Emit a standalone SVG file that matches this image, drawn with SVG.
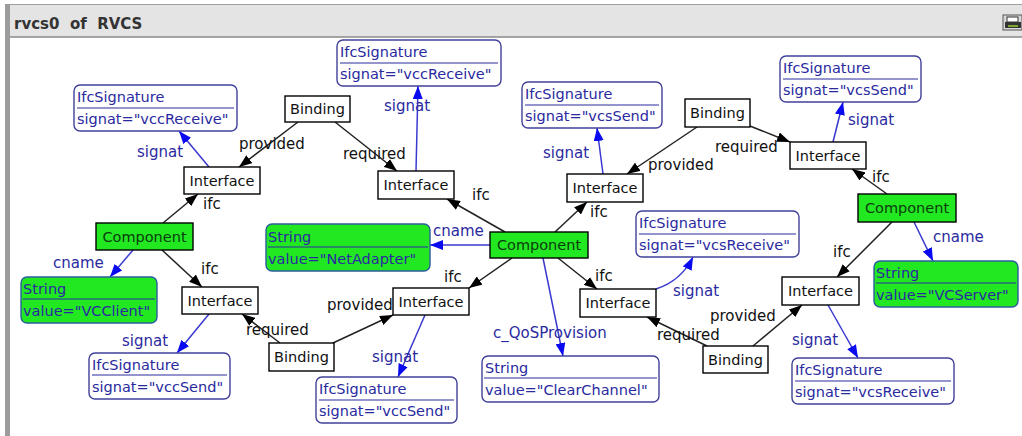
<svg xmlns="http://www.w3.org/2000/svg" width="1022" height="436" viewBox="0 0 1022 436">
<style>
.nt{font-family:"DejaVu Sans","Liberation Sans",sans-serif;font-size:14.5px;fill:#111}
.ct{font-family:"DejaVu Sans","Liberation Sans",sans-serif;font-size:14.5px;fill:#0b3d0b}
.bt{font-family:"DejaVu Sans","Liberation Sans",sans-serif;font-size:14.5px;fill:#2a2aa0}
.box{fill:#fff;stroke:#000;stroke-width:1.4}
.comp{fill:#22e822;stroke:#000;stroke-width:1.4}
.sig{fill:#fff;stroke:#40409a;stroke-width:1.4}
.str{fill:#22e822;stroke:#2c5c9c;stroke-width:1.4}
.sep{stroke:#2a2aa0;stroke-width:1.2}
.e{stroke:#222;stroke-width:1.5;fill:none;marker-end:url(#ak)}
.b{stroke:#3a3ad0;stroke-width:1.5;fill:none;marker-end:url(#ab)}
.lk{font-family:"DejaVu Sans","Liberation Sans",sans-serif;font-size:15px;fill:#111}
.lb{font-family:"DejaVu Sans","Liberation Sans",sans-serif;font-size:15px;fill:#2a2aa0}
</style>
<defs>
<marker id="ak" viewBox="0 0 13 10" refX="13" refY="5" markerWidth="13" markerHeight="10" markerUnits="userSpaceOnUse" orient="auto"><path d="M0,0 L13,5 L0,10 z" fill="#000"/></marker>
<marker id="ab" viewBox="0 0 13 10" refX="13" refY="5" markerWidth="13" markerHeight="10" markerUnits="userSpaceOnUse" orient="auto"><path d="M0,0 L13,5 L0,10 z" fill="#0a0af0"/></marker>
</defs>
<rect x="0" y="0" width="1022" height="436" fill="#fff"/>
<g id="frame">
<rect x="5" y="4" width="1017" height="33" fill="#e4e4e4"/>
<line x1="5" y1="4.5" x2="1022" y2="4.5" stroke="#a0a0a0" stroke-width="1"/>
<line x1="5" y1="37" x2="1022" y2="37" stroke="#8a8a8a" stroke-width="1.5"/>
<rect x="5" y="4" width="5" height="432" fill="#9c9c9c"/>
<text x="14" y="29" xml:space="preserve" style="font-family:'DejaVu Sans','Liberation Sans',sans-serif;font-size:15px;font-weight:bold;fill:#333">rvcs0  of  RVCS</text>
<g id="printer">
<rect x="1003" y="15" width="19" height="15" fill="#d8d8d8" stroke="#555" stroke-width="1"/>
<rect x="1007" y="17" width="11" height="5" fill="#fff" stroke="#333" stroke-width="1"/>
<rect x="1005" y="22" width="16" height="6" fill="#333"/>
<line x1="1008" y1="26" x2="1018" y2="26" stroke="#9c3" stroke-width="1.5"/>
</g>
</g>
<g id="connectors">
<line class="e" x1="163" y1="223" x2="198" y2="194"/>
<line class="e" x1="162" y1="250" x2="202" y2="287"/>
<line class="e" x1="298" y1="122" x2="239" y2="167"/>
<line class="e" x1="335" y1="122" x2="397" y2="171"/>
<line class="e" x1="280" y1="343" x2="242" y2="314"/>
<line class="e" x1="333" y1="343" x2="393" y2="315"/>
<line class="e" x1="505" y1="232" x2="447" y2="199"/>
<line class="e" x1="512" y1="258" x2="469" y2="288"/>
<line class="e" x1="555" y1="232" x2="587" y2="202"/>
<line class="e" x1="558" y1="258" x2="597" y2="289"/>
<line class="e" x1="697" y1="127" x2="627" y2="174"/>
<line class="e" x1="750" y1="126" x2="790" y2="142"/>
<line class="e" x1="887" y1="194" x2="852" y2="169"/>
<line class="e" x1="892" y1="222" x2="837" y2="277"/>
<line class="e" x1="707" y1="346" x2="647" y2="317"/>
<line class="e" x1="753" y1="346" x2="802" y2="305"/>
<line class="b" x1="209" y1="167" x2="179" y2="131"/>
<line class="b" x1="133" y1="250" x2="110" y2="277"/>
<line class="b" x1="209" y1="314" x2="177" y2="353"/>
<line class="b" x1="416" y1="171" x2="418" y2="86"/>
<line class="b" x1="490" y1="245" x2="430" y2="245"/>
<line class="b" x1="425" y1="315" x2="398" y2="377"/>
<line class="b" x1="543" y1="258" x2="563" y2="356"/>
<line class="b" x1="603" y1="174" x2="597" y2="128"/>
<path class="b" d="M656,289 Q681,281 693,257"/>
<line class="b" x1="833" y1="142" x2="843" y2="102"/>
<line class="b" x1="914" y1="222" x2="933" y2="261"/>
<line class="b" x1="828" y1="305" x2="858" y2="358"/>
<text class="lk" x="203" y="209">ifc</text>
<text class="lk" x="201" y="274">ifc</text>
<text class="lk" x="239" y="149">provided</text>
<text class="lk" x="343" y="159">required</text>
<text class="lk" x="246" y="335">required</text>
<text class="lk" x="327" y="310">provided</text>
<text class="lk" x="472" y="200">ifc</text>
<text class="lk" x="444" y="282">ifc</text>
<text class="lk" x="590" y="217">ifc</text>
<text class="lk" x="595" y="281">ifc</text>
<text class="lk" x="648" y="170">provided</text>
<text class="lk" x="715" y="152">required</text>
<text class="lk" x="872" y="182">ifc</text>
<text class="lk" x="833" y="257">ifc</text>
<text class="lk" x="657" y="340">required</text>
<text class="lk" x="710" y="321">provided</text>
<text class="lb" x="137" y="157">signat</text>
<text class="lb" x="53" y="268">cname</text>
<text class="lb" x="122" y="346">signat</text>
<text class="lb" x="384" y="111">signat</text>
<text class="lb" x="433" y="236">cname</text>
<text class="lb" x="372" y="362">signat</text>
<text class="lb" x="493" y="338">c_QoSProvision</text>
<text class="lb" x="543" y="158">signat</text>
<text class="lb" x="673" y="296">signat</text>
<text class="lb" x="848" y="125">signat</text>
<text class="lb" x="933" y="242">cname</text>
<text class="lb" x="792" y="345">signat</text>
</g>
<g id="I1"><rect class="box" x="184" y="167" width="76" height="27"/><text class="nt" x="222" y="186" text-anchor="middle">Interface</text></g>
<g id="I2"><rect class="box" x="182" y="287" width="76" height="27"/><text class="nt" x="220" y="306" text-anchor="middle">Interface</text></g>
<g id="I3"><rect class="box" x="378" y="171" width="76" height="28"/><text class="nt" x="416" y="190" text-anchor="middle">Interface</text></g>
<g id="I4"><rect class="box" x="393" y="288" width="76" height="27"/><text class="nt" x="431" y="307" text-anchor="middle">Interface</text></g>
<g id="I5"><rect class="box" x="567" y="174" width="76" height="28"/><text class="nt" x="605" y="193" text-anchor="middle">Interface</text></g>
<g id="I6"><rect class="box" x="580" y="289" width="76" height="28"/><text class="nt" x="618" y="308" text-anchor="middle">Interface</text></g>
<g id="I7"><rect class="box" x="790" y="142" width="76" height="27"/><text class="nt" x="828" y="161" text-anchor="middle">Interface</text></g>
<g id="I8"><rect class="box" x="782" y="277" width="77" height="28"/><text class="nt" x="820.5" y="296" text-anchor="middle">Interface</text></g>
<g id="B1"><rect class="box" x="285" y="96" width="65" height="26"/><text class="nt" x="317.5" y="114" text-anchor="middle">Binding</text></g>
<g id="B2"><rect class="box" x="269" y="343" width="65" height="28"/><text class="nt" x="301.5" y="362" text-anchor="middle">Binding</text></g>
<g id="B3"><rect class="box" x="685" y="99" width="65" height="28"/><text class="nt" x="717.5" y="118" text-anchor="middle">Binding</text></g>
<g id="B4"><rect class="box" x="703" y="346" width="65" height="27"/><text class="nt" x="735.5" y="365" text-anchor="middle">Binding</text></g>
<g id="C1"><rect class="comp" x="96" y="223" width="97" height="27"/><text class="ct" x="144.5" y="242" text-anchor="middle">Component</text></g>
<g id="C2"><rect class="comp" x="490" y="232" width="98" height="26"/><text class="ct" x="539" y="250" text-anchor="middle">Component</text></g>
<g id="C3"><rect class="comp" x="858" y="194" width="98" height="28"/><text class="ct" x="907" y="213" text-anchor="middle">Component</text></g>
<g id="S1"><rect class="str" x="21" y="277" width="136" height="46" rx="6"/><line class="sep" x1="23" y1="299" x2="155" y2="299"/><text class="bt" x="23" y="294">String</text><text class="bt" x="23" y="316">value="VCClient"</text></g>
<g id="S2"><rect class="str" x="266" y="224" width="164" height="47" rx="6"/><line class="sep" x1="268" y1="247" x2="428" y2="247"/><text class="bt" x="268" y="242">String</text><text class="bt" x="268" y="264">value="NetAdapter"</text></g>
<g id="S3"><rect class="sig" x="482" y="356" width="177" height="46" rx="6"/><line class="sep" x1="484" y1="378" x2="657" y2="378"/><text class="bt" x="485" y="373">String</text><text class="bt" x="485" y="395">value="ClearChannel"</text></g>
<g id="S4"><rect class="str" x="874" y="261" width="144" height="46" rx="6"/><line class="sep" x1="876" y1="283" x2="1016" y2="283"/><text class="bt" x="876" y="278">String</text><text class="bt" x="876" y="300">value="VCServer"</text></g>
<g id="F1"><rect class="sig" x="74" y="85" width="163" height="46" rx="6"/><line class="sep" x1="77" y1="108" x2="234" y2="108"/><text class="bt" x="77" y="102">IfcSignature</text><text class="bt" x="77" y="124">signat="vccReceive"</text></g>
<g id="F2"><rect class="sig" x="89" y="353" width="141" height="46" rx="6"/><line class="sep" x1="92" y1="375" x2="227" y2="375"/><text class="bt" x="92" y="370">IfcSignature</text><text class="bt" x="92" y="392">signat="vccSend"</text></g>
<g id="F3"><rect class="sig" x="337" y="40" width="164" height="46" rx="6"/><line class="sep" x1="340" y1="63" x2="498" y2="63"/><text class="bt" x="340" y="57">IfcSignature</text><text class="bt" x="340" y="79">signat="vccReceive"</text></g>
<g id="F4"><rect class="sig" x="316" y="377" width="141" height="46" rx="6"/><line class="sep" x1="319" y1="400" x2="454" y2="400"/><text class="bt" x="319" y="394">IfcSignature</text><text class="bt" x="319" y="416">signat="vccSend"</text></g>
<g id="F5"><rect class="sig" x="522" y="82" width="140" height="46" rx="6"/><line class="sep" x1="525" y1="105" x2="659" y2="105"/><text class="bt" x="525" y="99">IfcSignature</text><text class="bt" x="525" y="121">signat="vcsSend"</text></g>
<g id="F6"><rect class="sig" x="780" y="56" width="141" height="46" rx="6"/><line class="sep" x1="783" y1="79" x2="918" y2="79"/><text class="bt" x="783" y="73">IfcSignature</text><text class="bt" x="783" y="95">signat="vcsSend"</text></g>
<g id="F7"><rect class="sig" x="636" y="211" width="163" height="46" rx="6"/><line class="sep" x1="639" y1="234" x2="796" y2="234"/><text class="bt" x="639" y="228">IfcSignature</text><text class="bt" x="639" y="250">signat="vcsReceive"</text></g>
<g id="F8"><rect class="sig" x="792" y="358" width="162" height="46" rx="6"/><line class="sep" x1="795" y1="381" x2="951" y2="381"/><text class="bt" x="795" y="375">IfcSignature</text><text class="bt" x="795" y="397">signat="vcsReceive"</text></g>
</svg>
